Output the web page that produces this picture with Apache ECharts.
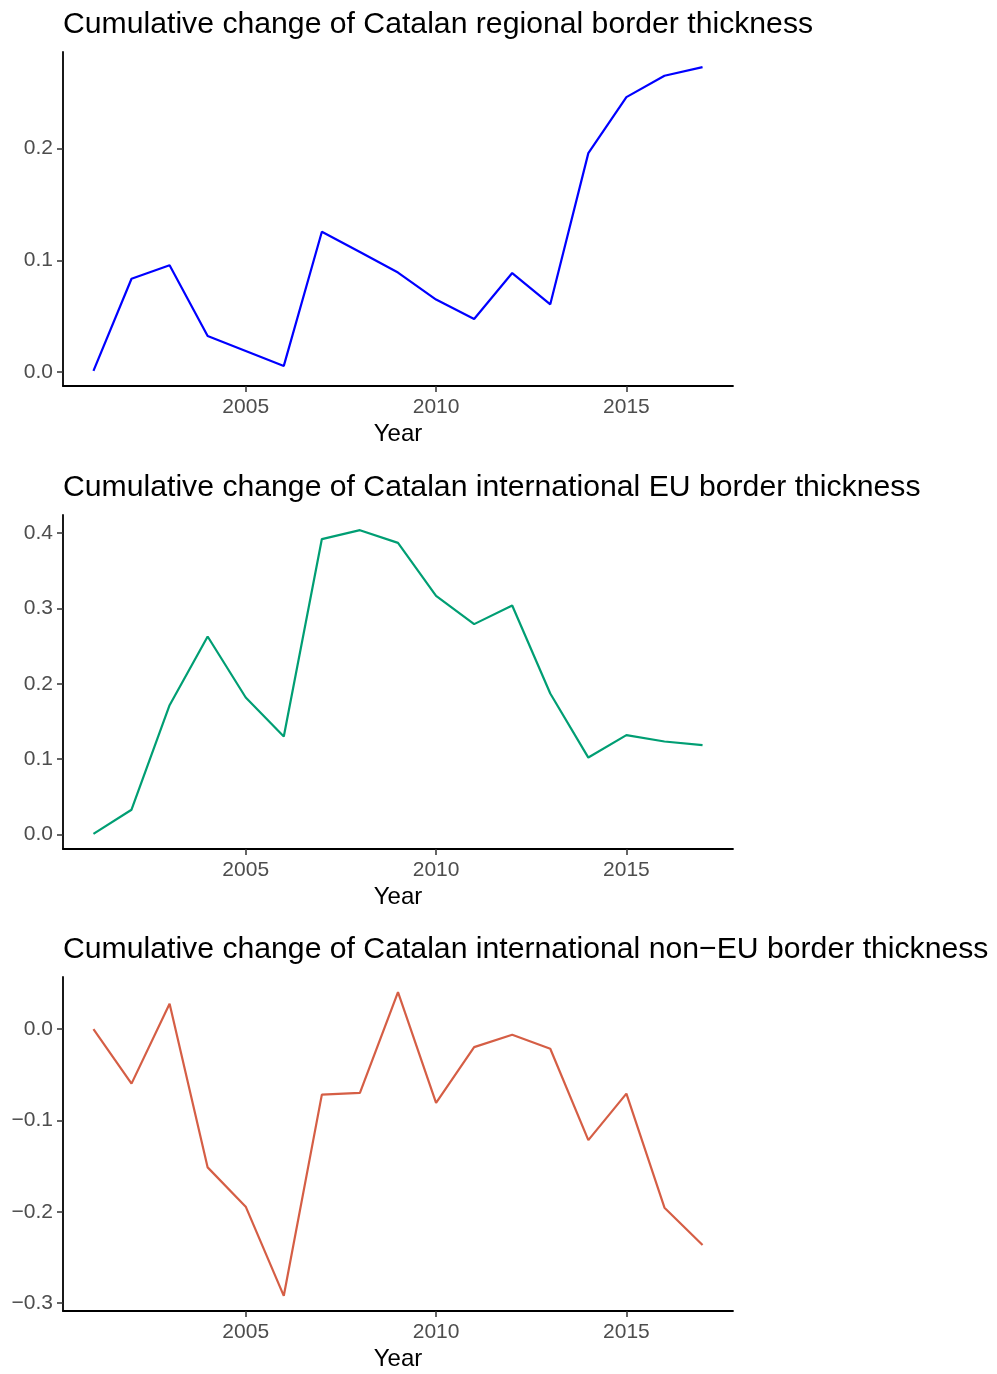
<!DOCTYPE html>
<html>
<head>
<meta charset="utf-8">
<script src="https://cdn.jsdelivr.net/npm/echarts@6/dist/echarts.min.js"></script>
<style>
  html, body { margin: 0; padding: 0; background: #fff; }
  #chart { width: 997px; height: 1374px; }
</style>
</head>
<body>
<div id="chart"></div>
<script>
var years = [2001, 2002, 2003, 2004, 2005, 2006, 2007, 2008, 2009, 2010, 2011, 2012, 2013, 2014, 2015, 2016, 2017];

var regional = [0.001, 0.0835, 0.0955, 0.0322, 0.0188, 0.0054, 0.1256, 0.1074, 0.089, 0.0648, 0.0474, 0.0886, 0.0606, 0.196, 0.2462, 0.2653, 0.273];
var euBorder = [0.001, 0.033, 0.1717, 0.2629, 0.1819, 0.1301, 0.3922, 0.404, 0.3872, 0.3168, 0.2793, 0.304, 0.1872, 0.1022, 0.132, 0.1235, 0.1187];
var nonEuBorder = [0.0, -0.0597, 0.0277, -0.1514, -0.1944, -0.292, -0.0717, -0.0699, 0.0404, -0.0808, -0.0197, -0.0062, -0.0215, -0.1216, -0.0706, -0.1955, -0.2363];

var titles = [
  'Cumulative change of Catalan regional border thickness',
  'Cumulative change of Catalan international EU border thickness',
  'Cumulative change of Catalan international non\u2212EU border thickness'
];
var xTicks = [2005, 2010, 2015];
var yTicks = [
  [0, 0.1, 0.2],
  [0, 0.1, 0.2, 0.3, 0.4],
  [-0.3, -0.2, -0.1, 0]
];
var colors = ['#0000FF', '#009E73', '#D55E45'];
var allSeries = [regional, euBorder, nonEuBorder];

var font = 'Liberation Sans, Arial, sans-serif';
var panelTop = [52, 515, 977];
var panelHeight = 334;

function pairs(values) {
  return years.map(function (y, i) { return [y, values[i]]; });
}

function fmt(v) {
  var s = Math.abs(v).toFixed(1);
  return v < -1e-9 ? '\u2212' + s : s;
}

var option = {
  animation: false,
  backgroundColor: '#ffffff',
  title: [],
  grid: [],
  xAxis: [],
  yAxis: [],
  series: []
};

for (var i = 0; i < 3; i++) {
  option.title.push({
    text: titles[i],
    left: 63,
    top: panelTop[i] - 42,
    padding: 0,
    textStyle: { fontFamily: font, fontSize: 30.2, fontWeight: 'normal', color: '#000' }
  });
  option.grid.push({
    left: 63,
    width: 670,
    top: panelTop[i],
    height: panelHeight,
    outerBoundsMode: 'none'
  });
  option.xAxis.push({
    type: 'value',
    gridIndex: i,
    min: 2000.2,
    max: 2017.8,
    name: 'Year',
    nameLocation: 'middle',
    nameGap: 36,
    nameMoveOverlap: false,
    nameTextStyle: { fontFamily: font, fontSize: 24, color: '#000' },
    axisLine: { onZero: false, lineStyle: { color: '#000', width: 1.8 } },
    axisTick: { show: true, length: 6, customValues: xTicks, lineStyle: { color: '#333', width: 1.5 } },
    axisLabel: {
      customValues: xTicks,
      margin: 11,
      fontFamily: font,
      fontSize: 21,
      color: '#4D4D4D',
      formatter: function (v) { return String(v); }
    },
    splitLine: { show: false }
  });
  option.yAxis.push({
    type: 'value',
    gridIndex: i,
    min: function (v) { return v.min - 0.05 * (v.max - v.min); },
    max: function (v) { return v.max + 0.05 * (v.max - v.min); },
    axisLine: { show: true, onZero: false, lineStyle: { color: '#000', width: 1.8 } },
    axisTick: { show: true, length: 6, customValues: yTicks[i], lineStyle: { color: '#333', width: 1.5 } },
    axisLabel: {
      customValues: yTicks[i],
      margin: 10,
      fontFamily: font,
      fontSize: 21,
      color: '#4D4D4D',
      formatter: fmt
    },
    splitLine: { show: false }
  });
  option.series.push({
    type: 'line',
    xAxisIndex: i,
    yAxisIndex: i,
    data: pairs(allSeries[i]),
    showSymbol: false,
    lineStyle: { color: colors[i], width: 2.2 },
    itemStyle: { color: colors[i] }
  });
}

var chart = echarts.init(document.getElementById('chart'));
chart.setOption(option);
</script>
</body>
</html>
